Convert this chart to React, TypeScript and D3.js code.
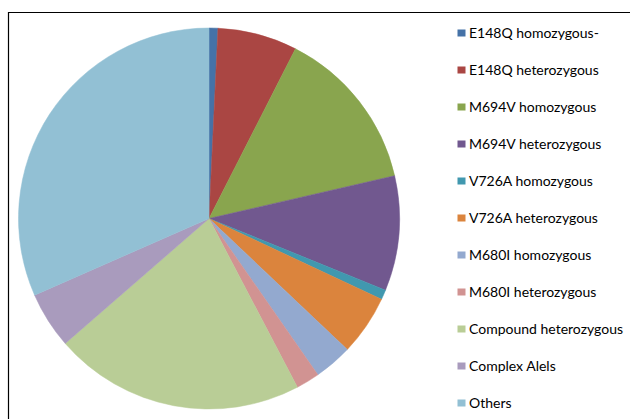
import React from "react";
import * as d3 from "d3";

const categories = [
  "E148Q homozygous-",
  "E148Q heterozygous",
  "M694V homozygous",
  "M694V heterozygous",
  "V726A homozygous",
  "V726A heterozygous",
  "M680I homozygous",
  "M680I heterozygous",
  "Compound heterozygous",
  "Complex Alels",
  "Others",
];
const values = [0.75, 6.75, 13.9, 9.75, 0.83, 5.1, 3.25, 2.0, 21.3, 4.8, 31.6];
const colors = [
  "#4572A7", "#AA4643", "#89A54E", "#71588F", "#4198AF", "#DB843D",
  "#93A9CF", "#D19392", "#B9CD96", "#A99BBD", "#92C0D4",
];

export default function App() {
  const W = 630, H = 419;
  const cx = 209, cy = 218.5, r = 190.5;
  const pie = d3.pie<number>().sort(null).value((d) => d)(values);
  const arc = d3.arc<d3.PieArcDatum<number>>().innerRadius(0).outerRadius(r);
  const legendY = d3.scalePoint<number>().domain(d3.range(categories.length)).range([33, 403]);
  return (
    <svg width={W} height={H} style={{ position: "absolute", left: 0, top: 0 }}>
      <rect x={0} y={0} width={W} height={H} fill="#fff" />
      <path d={`M8.5,${H} L8.5,12.5 L${W},12.5`} fill="none" stroke="#000" strokeWidth={1.2} />
      <g transform={`translate(${cx},${cy})`}>
        {pie.map((p, i) => (
          <path key={i} d={arc(p) || ""} fill={colors[i]} stroke={colors[i]} strokeWidth={0.5} />
        ))}
      </g>
      <g fontFamily="Lato, 'Open Sans', sans-serif" fontSize={14} fill="#000">
        {categories.map((c, i) => (
          <g key={c} transform={`translate(0,${legendY(i)})`}>
            <rect x={457.5} y={-3.5} width={8} height={7} fill={colors[i]} />
            <text x={469} y={0} dy="0.35em">{c}</text>
          </g>
        ))}
      </g>
    </svg>
  );
}
